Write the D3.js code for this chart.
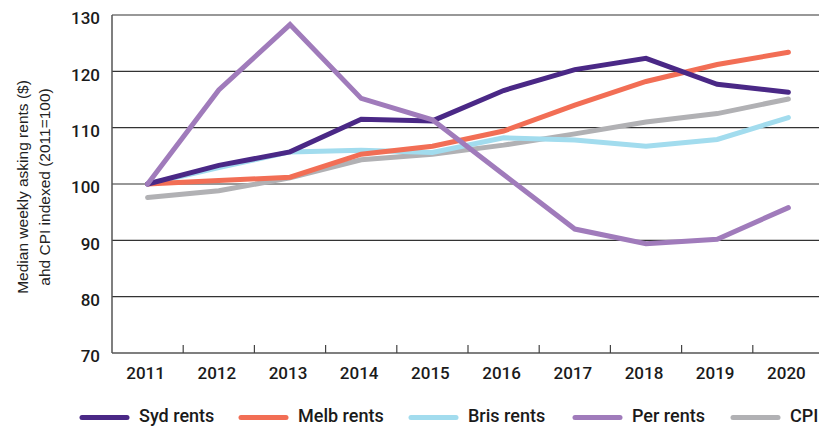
<!DOCTYPE html>
<html>
<head>
<meta charset="utf-8">
<script src="https://cdn.jsdelivr.net/npm/d3@7"></script>
<style>
  html, body { margin: 0; padding: 0; background: #fff; }
  svg { display: block; }
</style>
</head>
<body>
<svg id="chart" width="819" height="426"></svg>
<script>
const years = ["2011","2012","2013","2014","2015","2016","2017","2018","2019","2020"];
const sydRents  = [100, 103.3, 105.7, 111.5, 111.2, 116.6, 120.3, 122.3, 117.7, 116.3];
const melbRents = [100, 100.6, 101.2, 105.3, 106.7, 109.4, 114.0, 118.2, 121.2, 123.4];
const brisRents = [100, 102.9, 105.7, 106.0, 105.6, 108.2, 107.8, 106.7, 107.9, 111.8];
const perRents  = [100, 116.7, 128.3, 115.2, 111.4, 101.7, 92.0, 89.4, 90.2, 95.8];
const cpi       = [97.6, 98.8, 101.1, 104.3, 105.3, 106.9, 108.9, 111.0, 112.5, 115.1];
const seriesNames = ["Syd rents", "Melb rents", "Bris rents", "Per rents", "CPI"];
const yTicks = [70, 80, 90, 100, 110, 120, 130];

const colors = ["#4a2886", "#f26e55", "#a2dcee", "#a07bbb", "#b1b1b4"];
const allSeries = [sydRents, melbRents, brisRents, perRents, cpi];

const svg = d3.select("#chart");
const mLeft = 112, mRight = 824, mTop = 15, mBottom = 353;

const x = d3.scaleBand().domain(years).range([mLeft, mRight]).padding(0);
const y = d3.scaleLinear().domain([70, 130]).range([mBottom, mTop]);

// grid lines
svg.append("g").selectAll("line").data(yTicks.filter(d => d > 70)).join("line")
  .attr("x1", mLeft).attr("x2", 819)
  .attr("y1", d => y(d)).attr("y2", d => y(d))
  .attr("stroke", "#333").attr("stroke-width", 1.2);

// y labels
svg.append("g").selectAll("text").data(yTicks).join("text")
  .attr("x", 100).attr("y", d => y(d) + 5)
  .attr("text-anchor", "end").attr("dominant-baseline", "middle")
  .attr("font-family", "Roboto").attr("font-weight", 500).attr("font-size", 17)
  .attr("fill", "#1a1a1a")
  .text(d => d);

// axes lines
svg.append("line").attr("x1", mLeft).attr("x2", mLeft).attr("y1", mTop).attr("y2", mBottom)
  .attr("stroke", "#555").attr("stroke-width", 1.5);
svg.append("line").attr("x1", mLeft).attr("x2", 819).attr("y1", mBottom).attr("y2", mBottom)
  .attr("stroke", "#555").attr("stroke-width", 1.5);

// x ticks at band boundaries
svg.append("g").selectAll("line").data(years.slice(1)).join("line")
  .attr("x1", d => x(d)).attr("x2", d => x(d))
  .attr("y1", mBottom).attr("y2", mBottom - 8)
  .attr("stroke", "#444").attr("stroke-width", 1.2);

// x labels
svg.append("g").selectAll("text").data(years).join("text")
  .attr("x", d => x(d) + x.bandwidth() / 2 - 2).attr("y", 375)
  .attr("text-anchor", "middle").attr("dominant-baseline", "middle")
  .attr("font-family", "Roboto").attr("font-weight", 500).attr("font-size", 17)
  .attr("fill", "#1a1a1a")
  .text(d => d);

// y title
const yt = svg.append("text")
  .attr("transform", "translate(28,187) rotate(-90)")
  .attr("text-anchor", "middle")
  .attr("font-family", "Liberation Sans, Arial").attr("font-size", 15.5)
  .attr("fill", "#222");
yt.append("tspan").attr("x", 0).attr("dy", 0).text("Median weekly asking rents ($)");
yt.append("tspan").attr("x", 0).attr("dy", 22).text("ahd CPI indexed (2011=100)");

// lines
const line = d3.line()
  .x((d, i) => x(years[i]) + x.bandwidth() / 2)
  .y(d => y(d));

const drawOrder = [4, 2, 1, 0, 3];
svg.append("g").selectAll("path").data(drawOrder).join("path")
  .attr("d", i => line(allSeries[i]))
  .attr("fill", "none")
  .attr("stroke", i => colors[i])
  .attr("stroke-width", 5)
  .attr("stroke-linecap", "round")
  .attr("stroke-linejoin", "miter");

// legend
const legendX = [80, 239, 409, 573, 731];
const lg = svg.append("g").selectAll("g").data(seriesNames).join("g")
  .attr("transform", (d, i) => `translate(${legendX[i]},417.5)`);
lg.append("line").attr("x1", 2).attr("x2", 47).attr("y1", 0).attr("y2", 0)
  .attr("stroke", (d, i) => colors[i]).attr("stroke-width", 5).attr("stroke-linecap", "round");
lg.append("text").attr("x", 59).attr("y", 0)
  .attr("dominant-baseline", "middle")
  .attr("font-family", "Roboto").attr("font-weight", 500).attr("font-size", 18)
  .attr("fill", "#1a1a1a")
  .text(d => d);
</script>
</body>
</html>
